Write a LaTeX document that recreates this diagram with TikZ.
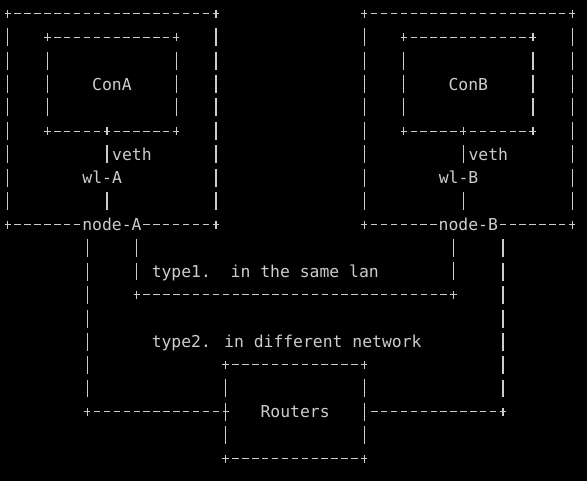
\documentclass[tikz,border=0pt]{standalone}
\usepackage{fontspec}
\newfontfamily\termfont{DejaVu Sans Mono}
\definecolor{termgray}{RGB}{204,204,204}
\tikzset{
    % one unit = one character cell of the terminal
    x=9.9pt, y=-23.4pt,
    % Define style for terminal text
    term/.style={
           font=\termfont\fontsize{16.4pt}{19pt}\selectfont,
           text=termgray,
           inner sep=0pt,
           text height=12pt,
           text depth=0pt,
           minimum height=23.4pt},
    lbl/.style={
           term,
           anchor=west},
    boxframe/.style={
           term},
    % Define line styles made of dashes and bars
    hdash/.style={
           draw=termgray,
           line width=1.3pt,
           dash pattern=on 6.4pt off 3.5pt},
    vbar/.style={
           draw=termgray,
           line width=1.3pt,
           dash pattern=on 18pt off 5.4pt},
    plusarm/.style={
           draw=termgray,
           line width=1.3pt}
}
% frame of a box, with a plus at each corner
\newcommand{\termframe}[1]{%
  \draw[hdash] ([xshift=-3.2pt]#1.north west) -- ([xshift=3.2pt]#1.north east);
  \draw[hdash] ([xshift=-3.2pt]#1.south west) -- ([xshift=3.2pt]#1.south east);
  \draw[vbar] ([yshift=-14.4pt]#1.north west) -- ([yshift=14.4pt]#1.south west);
  \draw[vbar] ([yshift=-14.4pt]#1.north east) -- ([yshift=14.4pt]#1.south east);
  \foreach \corner in {north west,north east,south west,south east}
    \draw[plusarm] ([yshift=4.2pt]#1.\corner) -- ([yshift=-4.2pt]#1.\corner);
}

\begin{document}
\begin{tikzpicture}
  \useasboundingbox[fill=black] (-8pt,14pt) rectangle (579pt,-467pt);
  % host A
  \node[boxframe, minimum width=207.9pt, minimum height=210.6pt] (nodeA) at (10.5,4.5) {};
  \node[boxframe, minimum width=128.7pt, minimum height=93.6pt] (conA) at (10.5,3) {ConA};
  % host B
  \node[boxframe, minimum width=207.9pt, minimum height=210.6pt] (nodeB) at (46.5,4.5) {};
  \node[boxframe, minimum width=128.7pt, minimum height=93.6pt] (conB) at (46.5,3) {ConB};
  % routers
  \node[boxframe, minimum width=138.6pt, minimum height=93.6pt] (rt) at (29,17) {Routers};
  \termframe{nodeA}
  \termframe{conA}
  \termframe{nodeB}
  \termframe{conB}
  \termframe{rt}
  % names on the frames
  \node[term, fill=black] (lblA) at (nodeA.south) {node-A};
  \node[term, fill=black] (lblB) at (nodeB.south) {node-B};
  \node[lbl] (vethA) at (10.5,6) {veth};
  \node[lbl] (wlA) at (7.5,7) {wl-A};
  \node[lbl] (vethB) at (46.5,6) {veth};
  \node[lbl] (wlB) at (43.5,7) {wl-B};
  \node[lbl] (type1) at (14.5,11) {type1.\ \ in the same lan};
  \node[lbl] (type2) at (14.5,14) {type2. in different network};
  % corner points
  \coordinate (pa) at (10,5);
  \coordinate (pb) at (46,5);
  \coordinate (ja) at (13,12);
  \coordinate (jb) at (45,12);
  \coordinate (ka) at (8,17);
  \coordinate (kb) at (50,17);
  % veth links
  \draw[vbar, shorten <=14.4pt, shorten >=2.7pt] (pa) -- (pa |- wlA.north);
  \draw[vbar, shorten <=2.7pt, shorten >=2.7pt] (pa |- wlA.south) -- (pa |- lblA.north);
  \draw[vbar, shorten <=14.4pt, shorten >=2.7pt] (pb) -- (pb |- wlB.north);
  \draw[vbar, shorten <=2.7pt, shorten >=2.7pt] (pb |- wlB.south) -- (pb |- lblB.north);
  % type1: same lan
  \draw[vbar, shorten <=2.7pt, shorten >=14.4pt] (lblA.south -| ja) -- (ja);
  \draw[hdash, shorten <=-3.2pt, shorten >=-3.2pt] (ja) -- (jb);
  \draw[vbar, shorten <=14.4pt, shorten >=2.7pt] (jb) -- (lblB.south -| jb);
  % type2: through the routers
  \draw[vbar, shorten <=2.7pt, shorten >=14.4pt] (lblA.south -| ka) -- (ka);
  \draw[hdash, shorten <=-3.2pt, shorten >=-3.2pt] (ka) -- (rt.west);
  \draw[vbar, shorten <=2.7pt, shorten >=14.4pt] (lblB.south -| kb) -- (kb);
  \draw[hdash, shorten <=-3.2pt, shorten >=6.7pt] (kb) -- (rt.east);
  \foreach \p in {pa,pb,ja,jb,ka,kb}
    \draw[plusarm] ([yshift=4.2pt]\p) -- ([yshift=-4.2pt]\p);
\end{tikzpicture}
\end{document}
